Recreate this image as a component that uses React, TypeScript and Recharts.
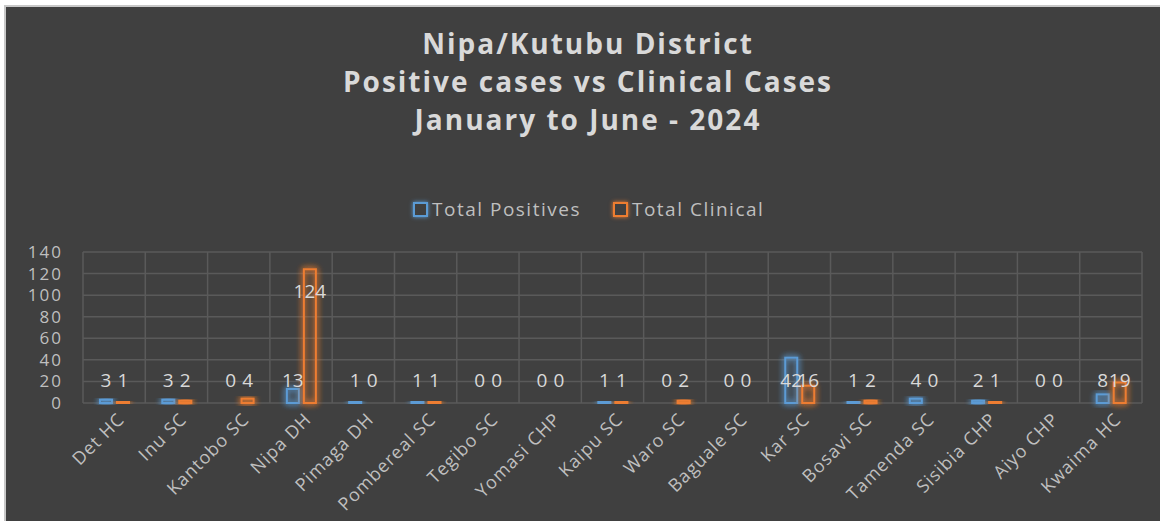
import React from "react";
import { BarChart, Bar, XAxis, YAxis, CartesianGrid, LabelList } from "recharts";

const facilities = [
  "Det HC", "Inu SC", "Kantobo SC", "Nipa DH", "Pimaga DH", "Pombereal SC",
  "Tegibo SC", "Yomasi CHP", "Kaipu SC", "Waro SC", "Baguale SC", "Kar SC",
  "Bosavi SC", "Tamenda SC", "Sisibia CHP", "Aiyo CHP", "Kwaima HC",
];
const totalPositives = [3, 3, 0, 13, 1, 1, 0, 0, 1, 0, 0, 42, 1, 4, 2, 0, 8];
const totalClinical = [1, 2, 4, 124, 0, 1, 0, 0, 1, 2, 0, 16, 2, 0, 1, 0, 19];
const yTicks = [0, 20, 40, 60, 80, 100, 120, 140];
const titleLines = [
  "Nipa/Kutubu District",
  "Positive cases vs Clinical Cases",
  "January to June - 2024",
];

const data = facilities.map((name, i) => ({
  name,
  positives: totalPositives[i],
  clinical: totalClinical[i],
}));

const BLUE = "#5b9bd5";
const ORANGE = "#ed7d31";
const TEXT = "#bfbfbf";
const FONT = "'Open Sans', sans-serif";

const HollowBar = (color: string, glow: string) => (props: any) => {
  const { x, y, width, height } = props;
  if (!height || height <= 0) return null;
  return (
    <rect
      x={x + 1}
      y={y}
      width={Math.max(width - 2, 1)}
      height={height}
      fill="none"
      stroke={color}
      strokeWidth={2}
      filter={`url(#${glow})`}
    />
  );
};

// excel style label: inside end, but never lower than just above the base
const valueLabel = (props: any) => {
  const { x, y, width, height, value } = props;
  const base = y + height;
  const cy = Math.min(y + 24, base - 21);
  return (
    <text
      x={x + width / 2}
      y={cy}
      fill="#d9d9d9"
      fontSize={19}
      fontFamily={FONT}
      textAnchor="middle"
      dominantBaseline="middle"
    >
      {value}
    </text>
  );
};

const CategoryTick = (props: any) => {
  const { x, y, payload } = props;
  return (
    <g transform={`translate(${x + 8},${y + 6})`}>
      <text
        transform="rotate(-45)"
        textAnchor="end"
        dominantBaseline="middle"
        fill={TEXT}
        fontSize={18}
        letterSpacing={1}
        fontFamily={FONT}
      >
        {payload.value}
      </text>
    </g>
  );
};

const LegendItem = ({ color, label }: { color: string; label: string }) => (
  <div style={{ display: "flex", alignItems: "center", marginRight: 32 }}>
    <span
      style={{
        width: 11,
        height: 11,
        border: `2px solid ${color}`,
        marginRight: 4,
        boxShadow: `0 0 4px ${color}`,
      }}
    />
    <span>{label}</span>
  </div>
);

export default function App() {
  return (
    <div
      style={{
        position: "absolute",
        left: 0,
        top: 0,
        width: 1160,
        height: 521,
        background: "#ffffff",
        overflow: "hidden",
      }}
    >
      <svg width={0} height={0} style={{ position: "absolute" }}>
        <defs>
          <filter id="glowBlue" x="-100%" y="-50%" width="300%" height="200%">
            <feGaussianBlur in="SourceGraphic" stdDeviation="3" result="blur" />
            <feMerge>
              <feMergeNode in="blur" />
              <feMergeNode in="blur" />
              <feMergeNode in="SourceGraphic" />
            </feMerge>
          </filter>
          <filter id="glowOrange" x="-100%" y="-50%" width="300%" height="200%">
            <feGaussianBlur in="SourceGraphic" stdDeviation="3" result="blur" />
            <feMerge>
              <feMergeNode in="blur" />
              <feMergeNode in="blur" />
              <feMergeNode in="SourceGraphic" />
            </feMerge>
          </filter>
        </defs>
      </svg>
      <div
        style={{
          position: "absolute",
          left: 4,
          top: 5,
          width: 1160,
          height: 521,
          background: "#404040",
          borderLeft: "2px solid #c8c8c8",
          borderTop: "2px solid #c8c8c8",
        }}
      />
      <div
        style={{
          position: "absolute",
          left: 0,
          top: 24,
          width: 1176,
          textAlign: "center",
          color: "#d9d9d9",
          fontFamily: FONT,
          fontWeight: 700,
          fontSize: 28,
          letterSpacing: 2,
          lineHeight: "38px",
        }}
      >
        {titleLines.map((t) => (
          <div key={t}>{t}</div>
        ))}
      </div>
      <div
        style={{
          position: "absolute",
          left: 413,
          top: 196,
          display: "flex",
          color: TEXT,
          fontFamily: FONT,
          fontSize: 19,
          letterSpacing: 1.5,
        }}
      >
        <LegendItem color={BLUE} label="Total Positives" />
        <LegendItem color={ORANGE} label="Total Clinical" />
      </div>
      <div style={{ position: "absolute", left: 0, top: 0 }}>
        <BarChart
          width={1160}
          height={521}
          data={data}
          margin={{ top: 252, right: 18, bottom: 0, left: 0 }}
          barGap={3}
          barSize={14}
        >
          <CartesianGrid
            stroke="#5a5a5a"
            strokeWidth={1.5}
            horizontal
            vertical
            verticalCoordinatesGenerator={({ offset }: any) =>
              facilities
                .map((_, i) => offset.left + (i * offset.width) / facilities.length)
                .concat(offset.left + offset.width)
            }
          />
          <XAxis
            dataKey="name"
            axisLine={false}
            tickLine={false}
            interval={0}
            height={118}
            tick={<CategoryTick />}
          />
          <YAxis
            width={83}
            domain={[0, 140]}
            ticks={yTicks}
            interval={0}
            axisLine={false}
            tickLine={false}
            tickSize={0}
            tickMargin={20}
            tick={{ fill: TEXT, fontSize: 17, fontFamily: FONT, letterSpacing: 2 }}
          />
          <Bar
            dataKey="positives"
            name="Total Positives"
            shape={HollowBar(BLUE, "glowBlue")}
            isAnimationActive={false}
          >
            <LabelList dataKey="positives" content={valueLabel} />
          </Bar>
          <Bar
            dataKey="clinical"
            name="Total Clinical"
            shape={HollowBar(ORANGE, "glowOrange")}
            isAnimationActive={false}
          >
            <LabelList dataKey="clinical" content={valueLabel} />
          </Bar>
        </BarChart>
      </div>
    </div>
  );
}
